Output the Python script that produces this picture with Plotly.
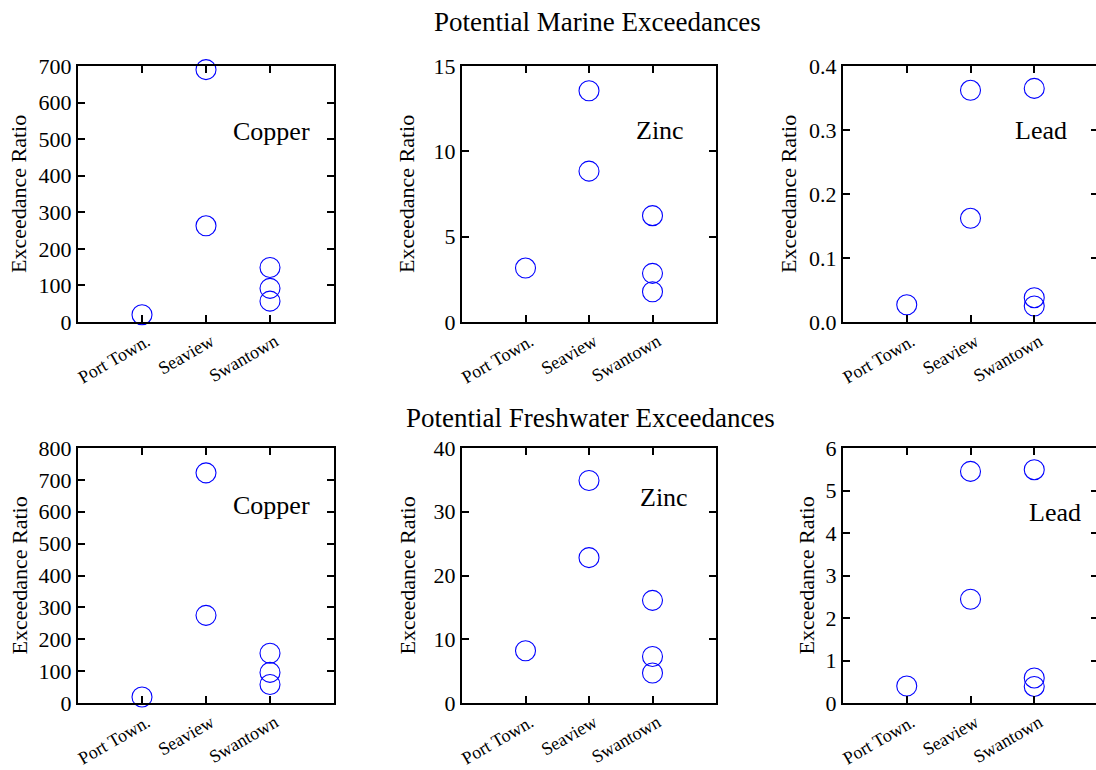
import plotly.graph_objects as go
from plotly.subplots import make_subplots

W, H = 1098, 770
FONT = "Liberation Serif, Times New Roman, serif"

sites = ["Port Town.", "Seaview", "Swantown"]
site_pos = [1, 2, 3]

# Marine exceedances (row 1)
marine_copper_x = [1, 2, 2, 3, 3, 3]
marine_copper_y = [20, 690, 263, 149, 92, 57]
marine_zinc_x = [1, 2, 2, 3, 3, 3]
marine_zinc_y = [3.16, 13.55, 8.84, 6.23, 2.85, 1.77]
marine_lead_x = [1, 2, 2, 3, 3, 3]
marine_lead_y = [0.027, 0.362, 0.162, 0.365, 0.038, 0.025]

# Freshwater exceedances (row 2)
fresh_copper_x = [1, 2, 2, 3, 3, 3]
fresh_copper_y = [19, 722, 275, 156, 96, 58]
fresh_zinc_x = [1, 2, 2, 3, 3, 3]
fresh_zinc_y = [8.2, 34.9, 22.8, 16.1, 7.3, 4.7]
fresh_lead_x = [1, 2, 2, 3, 3, 3]
fresh_lead_y = [0.40, 5.45, 2.44, 5.49, 0.59, 0.39]

metals = ["Copper", "Zinc", "Lead"]
row_titles = ["Potential Marine Exceedances", "Potential Freshwater Exceedances"]

panels = [
    [(marine_copper_x, marine_copper_y, [0, 700], 100, None),
     (marine_zinc_x, marine_zinc_y, [0, 15], 5, None),
     (marine_lead_x, marine_lead_y, [0, 0.4], 0.1, ".1f")],
    [(fresh_copper_x, fresh_copper_y, [0, 800], 100, None),
     (fresh_zinc_x, fresh_zinc_y, [0, 40], 10, None),
     (fresh_lead_x, fresh_lead_y, [0, 6], 1, None)],
]

# label positions (data coords) for metal names
label_pos = [
    [(3.02, 522), (3.12, 11.25), (3.11, 0.30)],
    [(3.03, 621), (3.18, 32.2), (3.32, 4.49)],
]

# pixel layout
col_px = [(78, 334), (462, 716), (843, 1099)]
row_px = [(66, 322), (448, 703)]
xranges = [[0, 4], [0, 4], [0, 4]]
ylab_x = [[19, 407, 789], [19, 407, 806]]
title_px = [(597, 22), (590, 418)]

fig = make_subplots(rows=2, cols=3)

for r in range(2):
    for c in range(3):
        xs, ys, yr, dt, fmt = panels[r][c]
        fig.add_trace(go.Scatter(
            x=xs, y=ys, mode="markers",
            marker=dict(symbol="circle-open", size=20, color="#0000ff",
                        line=dict(width=1.1, color="#0000ff")),
            showlegend=False, cliponaxis=False,
        ), row=r + 1, col=c + 1)
        x0, x1 = col_px[c]
        yt, yb = row_px[r]
        fig.update_xaxes(
            domain=[x0 / W, min(x1 / W, 1.0)], range=xranges[c],
            tickvals=site_pos, ticktext=sites, tickangle=-30,
            ticks="inside", ticklen=7, tickwidth=2, tickcolor="black",
            showline=True, linewidth=2, linecolor="black", mirror="ticks",
            showgrid=False, zeroline=False, ticklabelshift=5,
            tickfont=dict(family=FONT, size=18, color="black"),
            row=r + 1, col=c + 1)
        yk = dict(
            domain=[1 - yb / H, 1 - yt / H], range=yr, dtick=dt, tick0=0,
            ticks="inside", ticklen=7, tickwidth=2, tickcolor="black",
            showline=True, linewidth=2, linecolor="black", mirror="ticks",
            showgrid=False, zeroline=False,
            tickfont=dict(family=FONT, size=22, color="black"))
        if fmt:
            yk["tickformat"] = fmt
        fig.update_yaxes(row=r + 1, col=c + 1, **yk)
        # metal label
        lx, ly = label_pos[r][c]
        idx = r * 3 + c + 1
        xr = "x" if idx == 1 else f"x{idx}"
        yrf = "y" if idx == 1 else f"y{idx}"
        fig.add_annotation(x=lx, y=ly, xref=xr, yref=yrf, text=metals[c],
                           showarrow=False, xanchor="center", yanchor="middle",
                           font=dict(family=FONT, size=26, color="black"))
        # y-axis title
        fig.add_annotation(x=ylab_x[r][c] / W, y=1 - (yt + yb) / 2 / H,
                           xref="paper", yref="paper", text="Exceedance Ratio",
                           textangle=-90, showarrow=False,
                           xanchor="center", yanchor="middle",
                           font=dict(family=FONT, size=22, color="black"))

for i, t in enumerate(row_titles):
    tx, ty = title_px[i]
    fig.add_annotation(x=tx / W, y=1 - ty / H, xref="paper", yref="paper",
                       text=t, showarrow=False, xanchor="center", yanchor="middle",
                       font=dict(family=FONT, size=27, color="black"))

fig.update_layout(
    width=W, height=H,
    margin=dict(l=0, r=0, t=0, b=0, autoexpand=False),
    plot_bgcolor="white", paper_bgcolor="white",
    font=dict(family=FONT, color="black"),
)

fig.write_html("out.html",
               config={"displayModeBar": False},
               post_script="document.body.style.margin='0';"
                           "document.body.style.overflow='hidden';")
